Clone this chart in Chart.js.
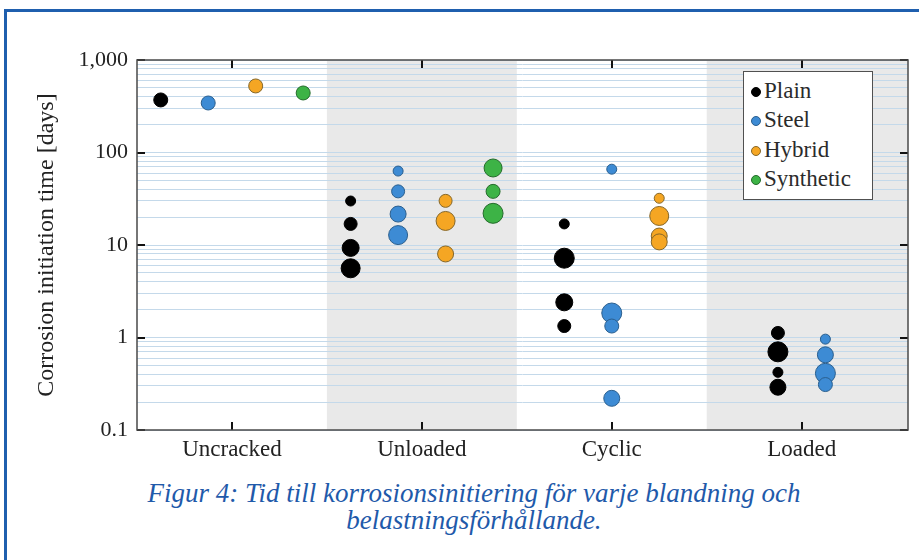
<!DOCTYPE html>
<html>
<head>
<meta charset="utf-8">
<script src="https://cdn.jsdelivr.net/npm/chart.js@4.4.1/dist/chart.umd.min.js"></script>
<style>
  body { margin:0; background:#fff; width:919px; height:560px; overflow:hidden; position:relative; }
  #frame { position:absolute; left:4px; top:9px; width:1000px; height:1000px; border:3px solid #1f5fae; box-sizing:border-box; }
  #wrap { position:absolute; left:0; top:0; width:919px; height:470px; }
  #legend { position:absolute; left:743px; top:71px; width:130px; height:129px; box-sizing:border-box;
            border:1.5px solid #505050; background:#fff; padding:4px 0 0 7px;
            font-family:"Liberation Serif", serif; font-size:23px; line-height:29.3px; color:#2b2b2b; }
  #legend .row { white-space:nowrap; }
  #legend .dot { display:inline-block; width:10px; height:10px; border-radius:50%; margin-right:3px; vertical-align:1px; box-sizing:border-box; border:1px solid; }
  #caption { position:absolute; left:0; top:480px; width:948px; text-align:center;
             font-family:"Liberation Serif", serif; font-style:italic; font-size:27px; line-height:27px; color:#1f5aaa; }
</style>
</head>
<body>
<div id="frame"></div>
<div id="wrap"><canvas id="chart" width="919" height="470"></canvas></div>
<div id="legend"></div>
<div id="caption">Figur 4: Tid till korrosionsinitiering för varje blandning och<br>belastningsförhållande.</div>
<script>
(function(){
  // categories on the x axis
  const categories = ['Uncracked', 'Unloaded', 'Cyclic', 'Loaded'];
  const seriesNames = ['Plain', 'Steel', 'Hybrid', 'Synthetic'];

  // corrosion initiation time [days], one list per category (empty = not tested)
  const plainDays     = [[370], [29.9, 16.9, 9.3, 5.6], [16.9, 7.2, 2.4, 1.33], [1.12, 0.70, 0.42, 0.29]];
  const steelDays     = [[343], [63, 38, 21.6, 12.8], [66, 1.84, 1.33, 0.22], [0.96, 0.65, 0.41, 0.31]];
  const hybridDays    = [[524], [30, 18.2, 8.0], [32, 20.6, 12.5, 10.8], []];
  const syntheticDays = [[440], [68, 38, 22], [], []];

  // bubble radius of each point (same layout as the day lists)
  const plainRadius     = [[7], [5, 6.5, 8.5, 9.5], [5, 10, 8.5, 6.5], [6.5, 10, 5, 8]];
  const steelRadius     = [[7], [5, 6.5, 8, 9.5], [5, 10, 7, 8], [5, 8, 10, 7]];
  const hybridRadius    = [[7], [6.5, 9.5, 8], [5, 9.5, 8, 8], []];
  const syntheticRadius = [[7], [9, 7, 10], [], []];

  // y axis ticks
  const yTicks = [0.1, 1, 10, 100, 1000];
  const yTickLabels = ['0.1', '1', '10', '100', '1,000'];

  const fills   = ['#000000', '#3d8bd4', '#f5a623', '#3db346'];
  const borders = ['#000000', '#2b5f8e', '#85672a', '#246b2b'];

  const allDays = [plainDays, steelDays, hybridDays, syntheticDays];
  const allRadius = [plainRadius, steelRadius, hybridRadius, syntheticRadius];

  // minor grid: 1..9 of every decade
  const gridValues = [];
  for(let d=0; d<yTicks.length-1; d++){
    for(let m=1; m<10; m++) gridValues.push(+(yTicks[d]*m).toPrecision(3));
  }
  gridValues.push(yTicks[yTicks.length-1]);

  const SLOT = 0.25;
  function buildDatasets(){
    return seriesNames.map((name, s)=>{
      const pts = [];
      categories.forEach((c, ci)=>{
        const present = allDays.map((d, i)=> d[ci].length ? i : -1).filter(i=> i>=0);
        const k = present.indexOf(s);
        if(k < 0) return;
        const off = (k - (present.length-1)/2) * SLOT;
        allDays[s][ci].forEach((v, j)=> pts.push({ x: ci + off, y: v, r: allRadius[s][ci][j] }));
      });
      return {
        label: name,
        data: pts,
        backgroundColor: fills[s],
        borderColor: borders[s],
        borderWidth: 1,
        hoverRadius: 0
      };
    });
  }

  const bandsPlugin = {
    id: 'bands',
    beforeDraw(chart){
      const {ctx, chartArea:a, scales:{x}} = chart;
      ctx.save();
      ctx.fillStyle = '#e9e9e9';
      [[0.5, 1.5], [2.5, x.max]].forEach(([lo, hi])=>{
        const x0 = x.getPixelForValue(lo), x1 = x.getPixelForValue(hi);
        ctx.fillRect(x0, a.top, x1 - x0, a.bottom - a.top);
      });
      ctx.restore();
    }
  };

  const framePlugin = {
    id: 'frame',
    afterDraw(chart){
      const {ctx, chartArea:a, scales:{x, y}} = chart;
      ctx.save();
      ctx.strokeStyle = '#111';
      ctx.lineWidth = 2;
      ctx.beginPath();
      yTicks.forEach(v=>{
        const py = Math.round(y.getPixelForValue(v));
        ctx.moveTo(a.left, py); ctx.lineTo(a.left + 8, py);
        ctx.moveTo(a.right, py); ctx.lineTo(a.right - 8, py);
      });
      categories.forEach((c, i)=>{
        const px = Math.round(x.getPixelForValue(i));
        ctx.moveTo(px, a.bottom); ctx.lineTo(px, a.bottom - 8);
        ctx.moveTo(px, a.top); ctx.lineTo(px, a.top + 8);
      });
      ctx.stroke();
      ctx.strokeStyle = '#4a4a4a';
      ctx.lineWidth = 1.5;
      ctx.strokeRect(a.left, a.top, a.right - a.left, a.bottom - a.top);
      ctx.restore();
    }
  };

  Chart.defaults.font.family = '"Liberation Serif", serif';
  Chart.defaults.color = '#222';

  const chart = new Chart(document.getElementById('chart'), {
    type: 'bubble',
    data: { datasets: buildDatasets() },
    options: {
      responsive: false,
      animation: false,
      layout: { padding: { left: 0, top: 60, right: 11, bottom: 0 } },
      plugins: { legend: { display: false }, tooltip: { enabled: false } },
      scales: {
        x: {
          type: 'linear', min: -0.5, max: 3.56,
          afterBuildTicks: (sc)=>{ sc.ticks = categories.map((c, i)=>({ value: i })); },
          afterFit: (sc)=>{ sc.height = 40; },
          grid: { display: false, drawTicks: false },
          border: { display: false },
          ticks: { autoSkip: false, maxRotation: 0, padding: 6, font: { size: 23 }, color: '#222',
                   callback: (v)=> categories[v] }
        },
        y: {
          type: 'logarithmic', min: 0.1, max: 1000,
          afterBuildTicks: (sc)=>{ sc.ticks = gridValues.map(v=>({ value: v })); },
          afterFit: (sc)=>{ sc.width = 137; },
          grid: { color: '#c4d9ea', lineWidth: 1, drawTicks: false },
          border: { display: false },
          ticks: { autoSkip: false, padding: 9, font: { size: 22 }, color: '#222',
                   callback: (v)=>{ const i = yTicks.indexOf(v); return i >= 0 ? yTickLabels[i] : ''; } },
          title: { display: true, text: 'Corrosion initiation time [days]', font: { size: 24 },
                   color: '#222', padding: { top: 32, bottom: 0 } }
        }
      }
    },
    plugins: [bandsPlugin, framePlugin]
  });

  // legend box built from the chart's datasets
  const box = document.getElementById('legend');
  chart.data.datasets.forEach(ds=>{
    const row = document.createElement('div');
    row.className = 'row';
    row.innerHTML = `<span class="dot" style="background:${ds.backgroundColor};border-color:${ds.borderColor}"></span>${ds.label}`;
    box.appendChild(row);
  });
})();
</script>
</body>
</html>
